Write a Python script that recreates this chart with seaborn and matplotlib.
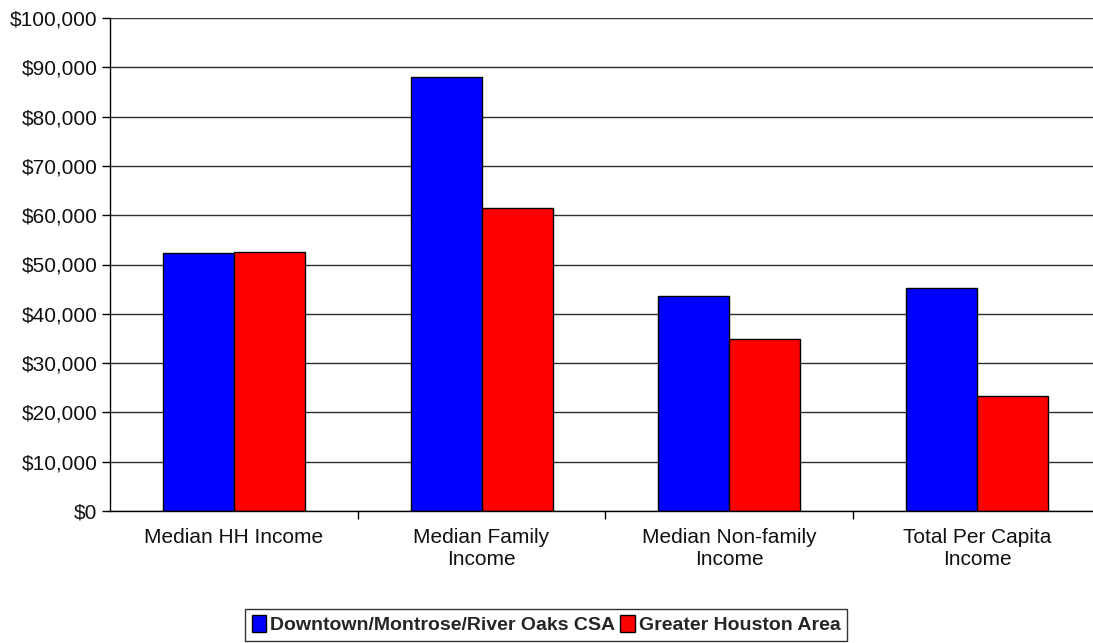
import seaborn as sns
import matplotlib.pyplot as plt
import pandas as pd
from matplotlib.ticker import FuncFormatter, FixedLocator

categories = ["Median HH Income", "Median Family\nIncome",
              "Median Non-family\nIncome", "Total Per Capita\nIncome"]
areas = ["Downtown/Montrose/River Oaks CSA", "Greater Houston Area"]
csa_values = [52300, 88100, 43600, 45300]
houston_values = [52500, 61400, 34900, 23400]
colors = ["#0000FF", "#FF0000"]

df = pd.DataFrame({
    "category": categories * 2,
    "area": [areas[0]] * 4 + [areas[1]] * 4,
    "value": csa_values + houston_values,
})

sns.set_style("white")
plt.rcParams["font.family"] = ["Liberation Sans", "DejaVu Sans"]

fig = plt.figure(figsize=(10.93, 6.43), dpi=100)
ax = fig.add_axes([110 / 1093, 1 - 511 / 643, 1 - 110 / 1093, (511 - 18) / 643])

sns.barplot(data=df, x="category", y="value", hue="area", palette=colors,
            edgecolor="black", linewidth=1, width=0.573, saturation=1, ax=ax)

ax.set_ylim(0, 100000)
ax.set_xlim(-0.5, (1093 - 110) / 247.7 - 0.5)
ax.yaxis.set_major_locator(FixedLocator(range(0, 100001, 10000)))
ax.yaxis.set_major_formatter(FuncFormatter(lambda v, p: f"${v:,.0f}"))
ax.yaxis.grid(True, color="#303030", linewidth=1)
ax.set_axisbelow(True)

ax.set_xlabel("")
ax.set_ylabel("")
for s in ["top", "right"]:
    ax.spines[s].set_visible(False)
for s in ["left", "bottom"]:
    ax.spines[s].set_color("black")
    ax.spines[s].set_linewidth(1)

ax.tick_params(axis="y", which="major", left=True, length=6, width=1,
               color="black", labelsize=15, labelcolor="#111111", pad=3)
ax.tick_params(axis="x", which="major", bottom=False, labelsize=15,
               labelcolor="#111111", pad=9)
ax.xaxis.set_minor_locator(FixedLocator([0.5, 1.5, 2.5]))
ax.tick_params(axis="x", which="minor", bottom=True, length=6, width=1,
               color="black", direction="out")

ax.get_legend().remove()
handles = [plt.Rectangle((0, 0), 1, 1, facecolor=c, edgecolor="black", linewidth=1)
           for c in colors]
leg = fig.legend(handles, areas, loc="lower center", bbox_to_anchor=(546 / 1093, 0.003),
                 ncol=2, frameon=True, fancybox=False, edgecolor="black",
                 handlelength=0.75, handleheight=0.9, handletextpad=0.2,
                 columnspacing=0.25, borderpad=0.35, borderaxespad=0,
                 prop={"weight": "bold", "size": 14})
leg.get_frame().set_linewidth(1)

fig.savefig("out.png", dpi=100)
